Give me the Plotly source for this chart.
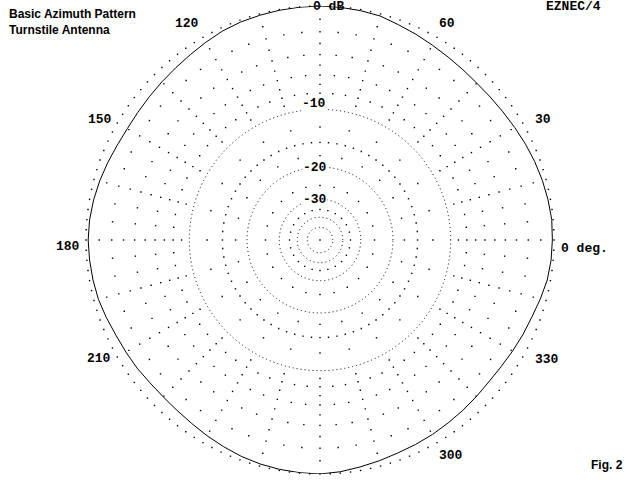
import numpy as np
import plotly.graph_objects as go

# ---- data: azimuth pattern (dB) every 5 degrees ----
angles_deg = list(range(0, 361, 5))
gain_db = [
    -0.12, -0.10, -0.18, -0.28, -0.40, -0.54, -0.68, -0.80, -0.88, -0.92,   # 0-45
    -0.88, -0.80, -0.68, -0.52, -0.36, -0.15, -0.08, -0.03, 0.00,           # 50-90
    -0.02, -0.05, -0.10, -0.15, -0.25, -0.42, -0.58, -0.70, -0.78,          # 95-135
    -0.84, -0.87, -0.86, -0.76, -0.60, -0.44, -0.30, -0.20, -0.16,          # 140-180
    -0.20, -0.26, -0.34, -0.50, -0.66, -0.74, -0.80, -0.90, -0.92,          # 185-225
    -0.87, -0.76, -0.60, -0.44, -0.28, -0.16, -0.08, -0.03, 0.00,           # 230-270
    -0.10, -0.26, -0.40, -0.54, -0.62, -0.70, -0.80, -0.88, -0.96,          # 275-315
    -1.02, -0.98, -0.88, -0.76, -0.64, -0.44, -0.24, -0.15, -0.12,          # 320-360
]

# grid rings (dB) and their labels
ring_db = [-10, -20, -30, -40, -50]
ring_labels = ["-10", "-20", "-30"]
ring_label_pos = [(314, 103), (315, 167), (315, 199)]   # pixel centres

# dotted "ray" grid: dB level of each ring of dots and its angular step
dot_ring_db = [-1, -2, -3, -4, -5, -6, -7, -8, -9,
               -12.5, -15, -17.5, -25, -35]
dot_ring_step = [15, 5, 15, 5, 15, 5, 15, 5, 15,
                 15, 5, 15, 15, 15]
outer_dot_step = 2.5

# angle labels (text, pixel centre)
angle_labels = ["120", "60", "150", "30", "180", "210", "330", "300"]
angle_label_pos = [(187, 23), (447, 23), (100, 119), (543, 119),
                   (68, 247), (99, 358), (547, 359), (451, 455)]

W, H = 640, 480


def arrl(db):
    """ARRL log scale: 2 dB per 0.89 factor."""
    return 0.89 ** (-np.asarray(db, dtype=float) / 2.0)


# build grid dot positions
dot_r, dot_t = [0.0], [0.0]
for db, step in zip(dot_ring_db, dot_ring_step):
    th = np.arange(0, 360, step)
    dot_t.extend(th.tolist())
    dot_r.extend([float(arrl(db))] * len(th))
th = np.arange(0, 360, outer_dot_step)
dot_t.extend(th.tolist())
dot_r.extend([1.0] * len(th))

fig = go.Figure()

fig.add_trace(go.Scatterpolar(
    r=dot_r, theta=dot_t, mode="markers",
    marker=dict(symbol="square", size=1.4, color="black", line=dict(width=0)),
    hoverinfo="skip", showlegend=False))

# pattern
fig.add_trace(go.Scatterpolar(
    r=arrl(gain_db), theta=angles_deg, mode="lines",
    line=dict(color="black", width=1),
    showlegend=False))

fig.update_layout(
    width=W, height=H,
    margin=dict(l=0, r=0, t=0, b=0),
    paper_bgcolor="white",
    showlegend=False,
    polar=dict(
        domain=dict(x=[86 / W, 554 / W], y=[1 - 474 / H, 1 - 6 / H]),
        bgcolor="white",
        radialaxis=dict(
            range=[0, 1], tickmode="array", tickvals=list(arrl(ring_db)),
            showticklabels=False, ticks="", showline=False,
            gridcolor="black", gridwidth=1, griddash="1px,3px",
        ),
        angularaxis=dict(
            rotation=0, direction="counterclockwise",
            showgrid=False, showticklabels=False, ticks="", showline=False,
        ),
    ),
)

mono = dict(family="Liberation Mono", size=13, color="black")
sans = dict(family="Liberation Sans", size=12, color="black")

ann = []
for txt, (px, py) in zip(angle_labels, angle_label_pos):
    ann.append(dict(x=px / W, y=1 - py / H, xref="paper", yref="paper",
                    text="<b>%s</b>" % txt, showarrow=False, font=mono,
                    xanchor="center", yanchor="middle"))
ann.append(dict(x=559 / W, y=1 - 248 / H, xref="paper", yref="paper",
                text="<b>0 deg.</b>", showarrow=False, font=mono,
                xanchor="left", yanchor="middle"))
ann.append(dict(x=311 / W, y=1 - 7 / H, xref="paper", yref="paper",
                text="<b>0 dB</b>", showarrow=False, font=mono,
                xanchor="left", yanchor="middle"))
for txt, (px, py) in zip(ring_labels, ring_label_pos):
    ann.append(dict(x=px / W, y=1 - py / H, xref="paper", yref="paper",
                    text="<b>%s</b>" % txt, showarrow=False, font=mono,
                    bgcolor="white", borderpad=0,
                    xanchor="center", yanchor="middle"))
ann.append(dict(x=7 / W, y=1 - 5 / H, xref="paper", yref="paper",
                text="<b>Basic Azimuth Pattern</b><br><b>Turnstile Antenna</b>",
                showarrow=False, font=sans, align="left",
                xanchor="left", yanchor="top"))
ann.append(dict(x=544 / W, y=1 - 7 / H, xref="paper", yref="paper",
                text="<b>EZNEC/4</b>", showarrow=False, font=mono,
                xanchor="left", yanchor="middle"))
ann.append(dict(x=589 / W, y=1 - 465 / H, xref="paper", yref="paper",
                text="<b>Fig. 2</b>", showarrow=False, font=sans,
                xanchor="left", yanchor="middle"))
fig.update_layout(annotations=ann)

fig.write_html("out.html")
